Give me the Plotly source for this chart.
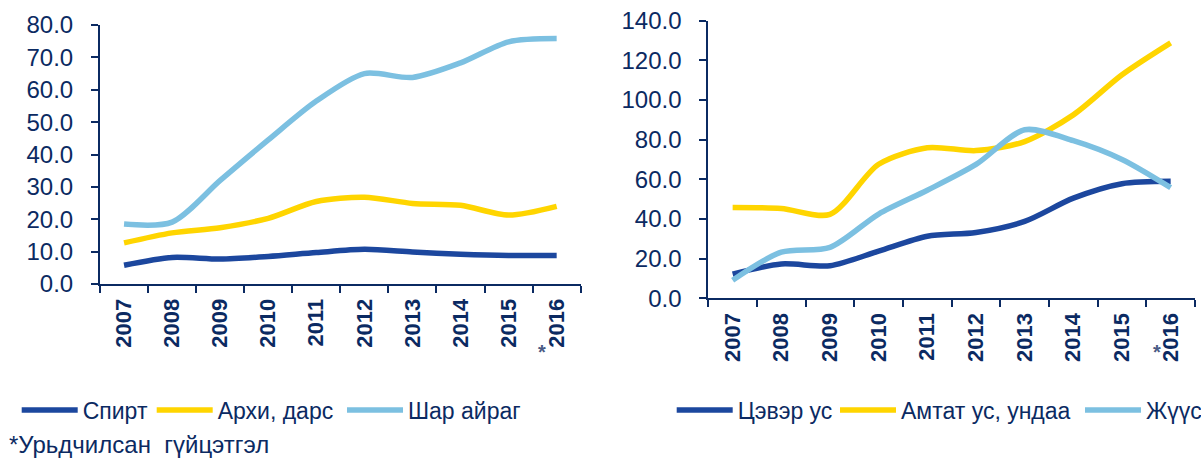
import plotly.graph_objects as go

# ---- data ----
years = ['2007', '2008', '2009', '2010', '2011', '2012', '2013', '2014', '2015', '2016']
spirt = [5.8, 8.2, 7.7, 8.5, 9.7, 10.7, 9.9, 9.2, 8.8, 8.8]
arkhi_dars = [12.7, 15.8, 17.4, 20.3, 25.5, 26.8, 24.9, 24.3, 21.3, 24.0]
shar_airag = [18.5, 19.1, 32.0, 44.5, 56.5, 65.0, 63.8, 68.3, 74.8, 75.8]
tsever_us = [12.2, 17.3, 16.4, 23.8, 31.3, 33.2, 38.8, 50.5, 57.8, 59.0]
amtat_us = [45.8, 45.3, 42.3, 67.6, 75.9, 74.5, 79.0, 92.5, 112.7, 128.8]
juus = [9.1, 23.3, 25.7, 42.5, 54.5, 67.5, 85.0, 79.5, 70.0, 55.8]

left_names = ['Спирт', 'Архи, дарс', 'Шар айраг']
right_names = ['Цэвэр ус', 'Амтат ус, ундаа', 'Жүүс']
left_ticks = [0, 10, 20, 30, 40, 50, 60, 70, 80]
right_ticks = [0, 20, 40, 60, 80, 100, 120, 140]
footnote = '*Урьдчилсан\u00a0\u00a0гүйцэтгэл'

# ---- style ----
COLORS = ['#1C479E', '#FFD500', '#7CC0E1']
NAVY = '#0B2A62'
FONT = 'Liberation Sans, Arial, sans-serif'
W, H = 1201, 459


def fx(x):
    return x / W


def fy(y):
    return 1 - y / H


fig = go.Figure()

legend_ids = ['legend', 'legend2', 'legend3', 'legend4', 'legend5', 'legend6']
for i, (name, vals) in enumerate(zip(left_names, [spirt, arkhi_dars, shar_airag])):
    fig.add_trace(go.Scatter(
        x=years, y=vals, name=name, mode='lines',
        line=dict(color=COLORS[i], width=5.5, shape='spline', smoothing=0.8),
        xaxis='x', yaxis='y', legend=legend_ids[i]))
for i, (name, vals) in enumerate(zip(right_names, [tsever_us, amtat_us, juus])):
    fig.add_trace(go.Scatter(
        x=years, y=vals, name=name, mode='lines',
        line=dict(color=COLORS[i], width=5.5, shape='spline', smoothing=0.8),
        xaxis='x2', yaxis='y2', legend=legend_ids[3 + i]))

xcommon = dict(type='category', tickson='boundaries', ticks='outside', ticklen=7,
               tickwidth=2, tickcolor=NAVY, showline=True, linecolor=NAVY,
               linewidth=2, showgrid=False, zeroline=False, tickangle=-90,
               range=[-0.5, len(years) - 0.5],
               tickfont=dict(family=FONT, size=22, color=NAVY, weight='bold'),
               ticklabelstandoff=4, fixedrange=True)
ycommon = dict(ticks='outside', ticklen=7, tickwidth=2, tickcolor=NAVY,
               showline=True, linecolor=NAVY, linewidth=2, showgrid=False,
               zeroline=False, tickformat='.1f',
               tickfont=dict(family=FONT, size=24, color=NAVY),
               ticklabelstandoff=13, fixedrange=True)

# left edge of each legend sample line (px) and vertical centre
line_starts = [21.7, 156.7, 347, 676.7, 840, 1085]
legend_y = 410
legends = {}
for lid, ls in zip(legend_ids, line_starts):
    legends[lid] = dict(x=fx(ls - 5), y=fy(legend_y), xanchor='left', yanchor='middle',
                        xref='paper', yref='paper', orientation='h',
                        bgcolor='rgba(0,0,0,0)', borderwidth=0, itemwidth=56,
                        font=dict(family=FONT, size=23, color=NAVY))

fig.update_layout(
    width=W, height=H,
    margin=dict(l=0, r=0, t=0, b=0, autoexpand=False),
    paper_bgcolor='white', plot_bgcolor='white',
    showlegend=True,
    xaxis=dict(domain=[fx(100), fx(580.7)], anchor='y', **xcommon),
    yaxis=dict(domain=[fy(284), fy(25)], anchor='x', range=[0, 80],
               tickvals=left_ticks, **ycommon),
    xaxis2=dict(domain=[fx(708.3), fx(1195)], anchor='y2', **xcommon),
    yaxis2=dict(domain=[fy(298.3), fy(20.7)], anchor='x2', range=[0, 140],
                tickvals=right_ticks, **ycommon),
    **legends,
)

fig.add_annotation(text=footnote, x=fx(7), y=fy(444), xref='paper', yref='paper',
                   xanchor='left', yanchor='middle', showarrow=False,
                   font=dict(family=FONT, size=24, color=NAVY))
for ax_x in [541.7, 1156.7]:
    fig.add_annotation(text='*', x=fx(ax_x), y=fy(352), xref='paper', yref='paper',
                       xanchor='center', yanchor='middle', showarrow=False,
                       font=dict(family=FONT, size=20, color='#4A5B85', weight='bold'))

fig.write_html('out.html', config={'displayModeBar': False},
               post_script="document.body.style.margin='0';")
